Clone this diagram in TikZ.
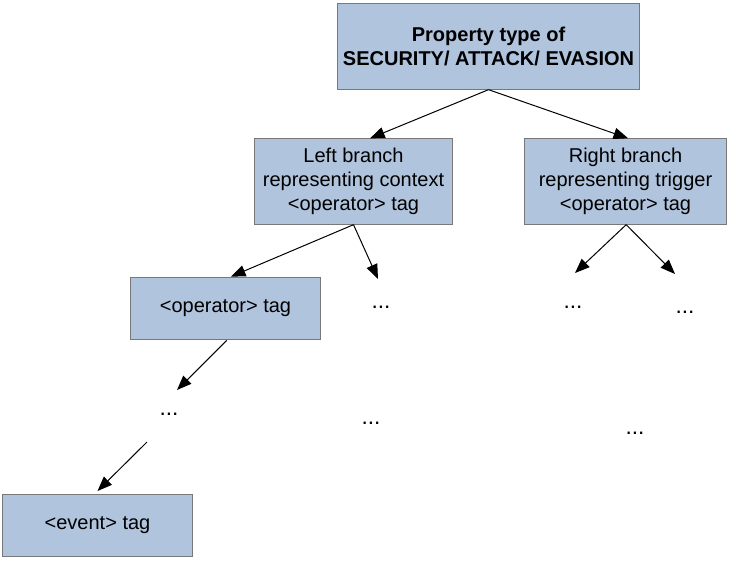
\documentclass[tikz,border=0pt]{standalone}
\usepackage{fontspec}
\setmainfont{Liberation Sans}
\usetikzlibrary{arrows.meta}
\definecolor{tagblue}{RGB}{176,196,222}
\definecolor{tagedge}{RGB}{120,120,120}

\begin{document}
\begin{tikzpicture}[
    x=0.75pt, y=-0.75pt,
    box/.style={draw=tagedge, fill=tagblue, line width=0.75pt, inner sep=0pt, align=center, font=\fontsize{15}{18}\selectfont},
    dots/.style={font=\fontsize{17}{18}\selectfont, inner sep=0pt},
    >={Triangle[length=11pt, width=8.5pt]}, line width=0.75pt
]
\useasboundingbox (0,0) rectangle (730,561);
% boxes
\node[box, minimum width=227pt, minimum height=64pt, font=\fontsize{15}{18}\selectfont\bfseries] (prop) at (488.5,46.5) {Property type of\\SECURITY/ ATTACK/ EVASION};
\node[box, minimum width=149pt, minimum height=64pt] (left) at (353.5,181.5) {Left branch\\representing context\\<operator> tag};
\node[box, minimum width=151pt, minimum height=64pt] (right) at (625.5,181.5) {Right branch\\representing trigger\\<operator> tag};
\node[box, minimum width=142pt, minimum height=47pt] (oper) at (225.5,308.5) {<operator> tag};
\node[box, minimum width=142pt, minimum height=47pt] (event) at (97.5,525.5) {<event> tag};
% dots
\node[dots] (dl) at (381,307) {...};
\node[dots] (drl) at (573,307) {...};
\node[dots] (drr) at (685,312) {...};
\node[dots] (dop) at (169,414) {...};
\node[dots] (dll) at (371,423) {...};
\node[dots] (drb) at (635,433) {...};
\coordinate (dlin) at (378,279);
\coordinate (drlin) at (575,273);
\coordinate (drrin) at (675,274);
\coordinate (dopin) at (177,390);
\coordinate (dopout) at (147,442);
% connectors
\draw[->] (prop.south) -- ([xshift=12.4pt]left.north);
\draw[->] (prop.south) -- ([xshift=2pt]right.north);
\draw[->] (left.south) -- ([xshift=4pt]oper.north);
\draw[->] (left.south) -- (dlin);
\draw[->] ([xshift=0.5pt]right.south) -- (drlin);
\draw[->] ([xshift=0.5pt]right.south) -- (drrin);
\draw[->] ([xshift=1pt]oper.south) -- (dopin);
\draw[->] (dopout) -- ([yshift=2pt]event.north);
\end{tikzpicture}
\end{document}
